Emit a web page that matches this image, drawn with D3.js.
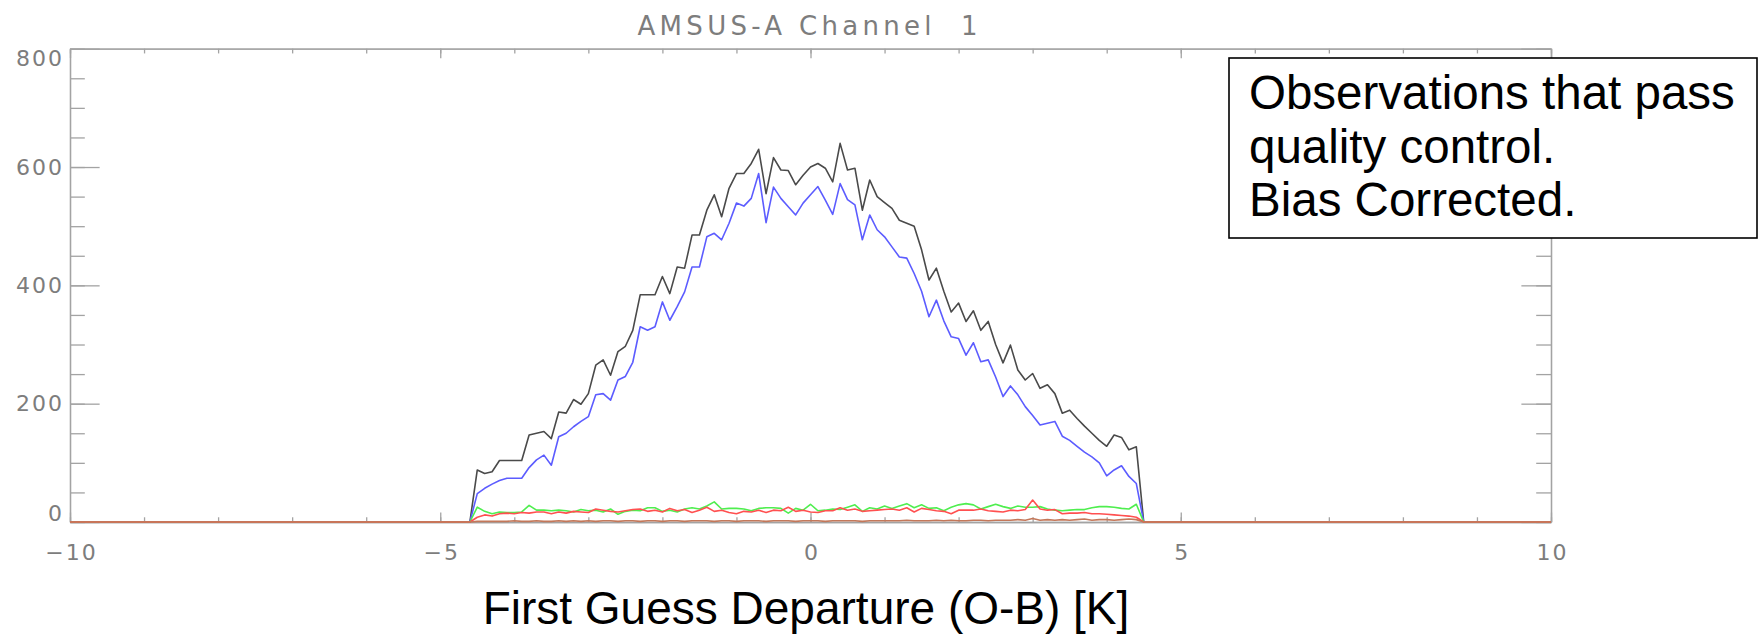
<!DOCTYPE html>
<html>
<head>
<meta charset="utf-8">
<script src="https://cdn.jsdelivr.net/npm/d3@7"></script>
<style>
  html, body { margin: 0; padding: 0; background: #fff; }
  svg { display: block; }
</style>
</head>
<body>
<svg id="chart" width="1759" height="644"></svg>
<script>
// ---------------- DATA ----------------
const chartTitle = "AMSUS-A Channel  1";
const xAxisTitle = "First Guess Departure (O-B) [K]";
const noteLines = ["Observations that pass", "quality control.", "Bias Corrected."];

const xTickLabels = [-10, -5, 0, 5, 10];
const yTickLabels = [0, 200, 400, 600, 800];

// histogram bin centres (K)
const bins = [
  -4.6,-4.5,-4.4,-4.3,-4.2,-4.1,-4.0,-3.9,-3.8,-3.7,-3.6,-3.5,-3.4,-3.3,-3.2,-3.1,-3.0,-2.9,-2.8,-2.7,
  -2.6,-2.5,-2.4,-2.3,-2.2,-2.1,-2.0,-1.9,-1.8,-1.7,-1.6,-1.5,-1.4,-1.3,-1.2,-1.1,-1.0,-0.9,-0.8,-0.7,
  -0.6,-0.5,-0.4,-0.3,-0.2,-0.1,0.0,0.1,0.2,0.3,0.4,0.5,0.6,0.7,0.8,0.9,1.0,1.1,1.2,1.3,
  1.4,1.5,1.6,1.7,1.8,1.9,2.0,2.1,2.2,2.3,2.4,2.5,2.6,2.7,2.8,2.9,3.0,3.1,3.2,3.3,
  3.4,3.5,3.6,3.7,3.8,3.9,4.0,4.1,4.2,4.3,4.4,4.5
];

const blackCounts = [
  0,88,82,85,104,104,104,104,147,150,153,141,186,184,207,199,217,265,274,248,
  288,297,324,384,384,384,415,386,431,429,485,485,527,553,516,564,589,589,606,630,
  555,616,595,594,570,586,600,606,598,575,640,595,598,527,578,550,540,530,510,505,
  500,460,409,429,390,355,370,339,357,324,339,300,269,299,257,240,251,226,232,217,
  184,189,175,162,150,138,128,147,143,122,127,0
];

const blueCounts = [
  0,48,57,64,70,74,74,74,92,105,113,96,144,150,161,170,178,215,217,206,
  240,246,270,330,324,330,372,341,364,389,431,431,482,488,477,505,539,534,547,589,
  506,566,547,533,519,539,553,567,544,520,572,545,536,477,519,494,482,465,448,446,
  420,390,347,375,340,313,310,282,303,271,274,245,212,230,215,195,180,164,167,170,
  145,138,128,118,110,100,78,88,95,77,65,0
];

const greenCounts = [
  0,25,18,14,17,16,16,17,28,20,20,19,20,19,17,21,19,20,17,22,
  13,18,20,19,24,24,18,20,17,22,24,22,27,34,22,23,23,22,19,23,
  24,24,23,15,23,20,30,19,20,22,21,25,29,18,24,22,27,23,27,31,
  24,29,23,24,19,25,29,31,29,22,26,30,26,23,27,25,25,26,22,20,
  19,20,21,21,24,26,26,25,23,22,30,0
];

const redCounts = [
  0,8,12,10,14,15,14,16,15,17,17,14,17,15,18,17,16,22,20,18,
  17,19,21,22,18,20,17,23,19,21,16,20,25,18,20,16,14,18,17,20,
  16,20,19,25,18,20,17,16,19,19,24,20,22,18,19,20,21,22,20,24,
  17,23,21,19,18,14,20,20,20,22,19,18,17,20,19,21,37,22,20,21,
  14,15,15,16,14,14,13,12,11,10,8,0
];

const orangeCounts = [
  0,1,1,1,1,1,2,1,1,2,1,1,2,1,2,1,2,1,2,2,
  1,2,2,1,2,2,1,2,2,1,2,2,2,1,2,2,1,2,2,2,
  1,2,2,2,1,2,2,2,1,2,2,2,2,1,2,2,2,2,2,3,
  2,2,2,3,2,3,2,2,3,3,2,3,3,3,4,3,6,3,4,3,
  4,3,4,5,3,4,4,3,4,5,4,0
];

const seriesNames = ["all", "passed", "green", "red", "orange"];
const seriesColors = ["#4a4a4a", "#5c5cff", "#4fee4f", "#ff5050", "#c4785a"];

// ---------------- LAYOUT ----------------
const svg = d3.select("#chart");
const plot = { left: 70, right: 1551, top: 48.7, bottom: 522 };

const x = d3.scaleLinear().domain([-10, 10]).range([plot.left, plot.right]);
const y = d3.scaleLinear().domain([0, 800]).range([plot.bottom, plot.top]);

const axisColor = "#a3a3a3";
const labelColor = "#7d7d7d";
const tickFont = "DejaVu Sans, sans-serif";

const xMajLen = 0.02 * (plot.bottom - plot.top);
const yMajLen = 0.02 * (plot.right - plot.left);
const xMinor = d3.range(-10, 10.001, 1);
const yMinor = d3.range(0, 800.001, 50);

function styleAxis(g) {
  g.select(".domain").attr("stroke", axisColor).attr("stroke-width", 1.3);
  g.selectAll(".tick line").attr("stroke", axisColor).attr("stroke-width", 1.3);
  g.selectAll(".tick text")
    .attr("fill", labelColor)
    .style("font-family", tickFont)
    .style("font-size", "22px")
    .style("letter-spacing", "2px");
}

// bottom axis (major with labels + minor)
svg.append("g").attr("transform", `translate(0,${plot.bottom})`)
  .call(d3.axisBottom(x).tickValues(xMinor).tickSizeInner(-xMajLen / 2).tickSizeOuter(0).tickFormat(""))
  .call(styleAxis);
svg.append("g").attr("class", "x-major").attr("transform", `translate(0,${plot.bottom})`)
  .call(d3.axisBottom(x).tickValues(xTickLabels).tickSizeInner(-xMajLen).tickSizeOuter(0).tickPadding(22))
  .call(styleAxis)
  .call(g => g.selectAll(".tick text").attr("dx", "1px"));

// top axis
svg.append("g").attr("transform", `translate(0,${plot.top})`)
  .call(d3.axisTop(x).tickValues(xMinor).tickSizeInner(-xMajLen / 2).tickSizeOuter(0).tickFormat(""))
  .call(styleAxis);
svg.append("g").attr("transform", `translate(0,${plot.top})`)
  .call(d3.axisTop(x).tickValues(xTickLabels).tickSizeInner(-xMajLen).tickSizeOuter(0).tickFormat(""))
  .call(styleAxis);

// left axis
svg.append("g").attr("transform", `translate(${plot.left},0)`)
  .call(d3.axisLeft(y).tickValues(yMinor).tickSizeInner(-yMajLen / 2).tickSizeOuter(0).tickFormat(""))
  .call(styleAxis);
svg.append("g").attr("class", "y-major").attr("transform", `translate(${plot.left},0)`)
  .call(d3.axisLeft(y).tickValues(yTickLabels).tickSizeInner(-yMajLen).tickSizeOuter(0).tickPadding(6).tickFormat(d3.format("d")))
  .call(styleAxis)
  // end labels are nudged inward so they stay inside the axis span
  .call(g => g.selectAll(".tick text").attr("dy", d => d === 800 ? "0.75em" : d === 0 ? "-0.05em" : "0.32em"));

// right axis
svg.append("g").attr("transform", `translate(${plot.right},0)`)
  .call(d3.axisRight(y).tickValues(yMinor).tickSizeInner(-yMajLen / 2).tickSizeOuter(0).tickFormat(""))
  .call(styleAxis);
svg.append("g").attr("transform", `translate(${plot.right},0)`)
  .call(d3.axisRight(y).tickValues(yTickLabels).tickSizeInner(-yMajLen).tickSizeOuter(0).tickFormat(""))
  .call(styleAxis);

// ---------------- LINES ----------------
const allSeries = [blackCounts, blueCounts, greenCounts, redCounts, orangeCounts];
const line = d3.line().x(d => x(d[0])).y(d => y(d[1]));

allSeries.forEach((vals, i) => {
  // bins outside the plotted range are empty (zero counts)
  const pts = [[-10, 0]].concat(bins.map((b, j) => [b, vals[j]])).concat([[10, 0]]);
  svg.append("path")
    .datum(pts)
    .attr("class", "series-" + seriesNames[i])
    .attr("d", line)
    .attr("fill", "none")
    .attr("stroke", seriesColors[i])
    .attr("stroke-width", 1.6)
    .attr("stroke-linejoin", "round");
});

// ---------------- TEXT ----------------
svg.append("text")
  .attr("x", (plot.left + plot.right) / 2 - 3)
  .attr("y", 35)
  .attr("text-anchor", "middle")
  .attr("fill", labelColor)
  .style("font-family", tickFont)
  .style("font-size", "26px")
  .style("white-space", "pre")
  .attr("textLength", 340)
  .attr("lengthAdjust", "spacing")
  .text(chartTitle);

svg.append("text")
  .attr("x", 806)
  .attr("y", 624)
  .attr("text-anchor", "middle")
  .attr("fill", "#000")
  .style("font-family", "Liberation Sans, Arial, sans-serif")
  .style("font-size", "46px")
  .text(xAxisTitle);

// annotation box
svg.append("rect")
  .attr("x", 1229).attr("y", 58)
  .attr("width", 528).attr("height", 180)
  .attr("fill", "#fff")
  .attr("stroke", "#000")
  .attr("stroke-width", 1.6);

svg.append("g").selectAll("text")
  .data(noteLines)
  .join("text")
  .attr("x", 1249)
  .attr("y", (d, i) => 109 + i * 53.5)
  .attr("fill", "#000")
  .style("font-family", "Liberation Sans, Arial, sans-serif")
  .style("font-size", "47.5px")
  .text(d => d);
</script>
</body>
</html>
